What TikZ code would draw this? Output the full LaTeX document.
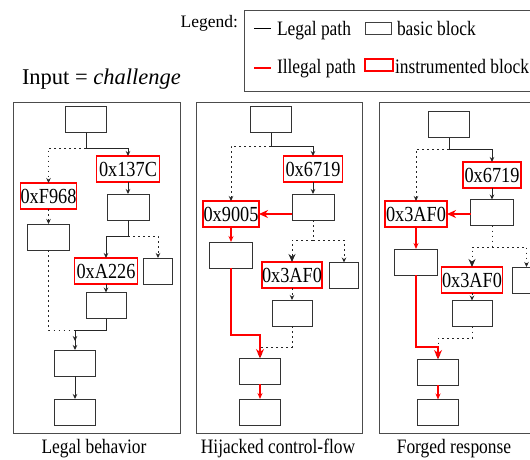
\documentclass[tikz,border=0pt]{standalone}
\usepackage{fontspec}
\setmainfont{Liberation Serif}
\usetikzlibrary{arrows.meta}
% horizontally narrowed text
\newcommand\narrowtext[1]{\scalebox{0.85}[1]{#1}}
\begin{document}
\begin{tikzpicture}[x=1pt,y=-1pt,
  every node/.style={inner sep=0pt, outer sep=0pt},
  blk/.style={draw, color=black!80, line width=1pt, minimum height=26pt, minimum width=41pt},
  inst/.style={draw, color=red, text=black, line width=1.35pt, minimum height=26pt,
    font=\fontsize{21.5}{21.5}\selectfont},
  lbl/.style={font=\fontsize{20.5}{22}\selectfont},
  panelbox/.style={draw, color=black!70, line width=1pt},
  legal/.style={draw, color=black!85, line width=1pt, -{Stealth[length=5pt,width=4.5pt]}},
  legaldot/.style={legal, dash pattern=on 1.6pt off 3.4pt},
  legaldotbig/.style={legaldot, -{Stealth[length=8pt,width=7pt]}},
  illegal/.style={draw, color=red, line width=1.35pt, -{Stealth[length=6pt,width=5pt]}},
  illegalbig/.style={illegal, -{Stealth[length=9pt,width=8pt]}},
]
\useasboundingbox (0,0) rectangle (530,459);
\clip (0,0) rectangle (530,459);

% ---- legend ----
\node[anchor=base east, font=\fontsize{17.5}{18}\selectfont] (legtitle) at (238,27) {Legend:};
\node[panelbox, anchor=north west, minimum width=296pt, minimum height=81pt] (legbox) at (244,10) {};
\coordinate (l1a) at (254,28);
\coordinate (l1b) at (271,28);
\draw[color=black, line width=1pt] (l1a) -- (l1b);
\node[lbl, anchor=base west] (l1t) at (277,35) {\narrowtext{Legal path}};
\node[draw, color=black!75, line width=1pt, minimum width=26pt, minimum height=12pt] (l1r) at (378,28) {};
\node[lbl, anchor=base west] (l1u) at (397,35) {\narrowtext{basic block}};
\coordinate (l2a) at (254,68);
\coordinate (l2b) at (271,68);
\draw[color=red, line width=1.35pt] (l2a) -- (l2b);
\node[lbl, anchor=base west] (l2t) at (277,73) {\narrowtext{Illegal path}};
\node[draw, color=red, line width=1.35pt, minimum width=28pt, minimum height=12pt] (l2r) at (379,65) {};
\node[lbl, anchor=base west] (l2u) at (395,73) {\narrowtext{instrumented block}};

\node[anchor=base west, font=\fontsize{22.5}{23}\selectfont] (input) at (22,84) {Input = \textit{challenge}};

% ---- panel frames and captions ----
\node[panelbox, anchor=north west, minimum width=167pt, minimum height=331pt] (pan1) at (13,102) {};
\node[panelbox, anchor=north west, minimum width=166pt, minimum height=331pt] (pan2) at (196,102) {};
\node[panelbox, anchor=north west, minimum width=167pt, minimum height=331pt] (pan3) at (379,102) {};
\node[lbl, anchor=base] (cap1) at (94,453) {\narrowtext{Legal behavior}};
\node[lbl, anchor=base] (cap2) at (278,453) {\narrowtext{Hijacked control-flow}};
\node[lbl, anchor=base] (cap3) at (454,453) {\narrowtext{Forged response}};

% ---- panel 1: legal behavior ----
\node[blk] (p1a) at (86,119.5) {};
\node[inst, minimum width=63pt] (p1x) at (128,169) {\narrowtext{0x137C}};
\node[inst, minimum width=55pt] (p1f) at (48.5,196) {\narrowtext{0xF968}};
\node[blk, minimum width=42pt] (p1b) at (48.5,237) {};
\node[blk, minimum width=42pt] (p1c) at (128,207) {};
\node[inst, minimum width=63pt] (p1h) at (106,271) {\narrowtext{0xA226}};
\node[blk, minimum width=29pt] (p1d) at (158,271) {};
\node[blk, minimum width=40pt] (p1e) at (106,305.5) {};
\node[blk] (p1g) at (75,363) {};
\node[blk] (p1k) at (75,412) {};
\coordinate (p1s) at (86,148);
\coordinate (p1t) at (128,236);
\coordinate (p1m) at (75,330);

\draw[legal] (p1a.south) -- (p1s) -| (p1x.north);
\draw[legaldot] (p1s) -| (p1f.north);
\draw[legaldot] (p1f.south) -- (p1b.north);
\draw[legal] (p1x.south) -- (p1c.north);
\draw[legal] (p1c.south) -- (p1t) -| (p1h.north);
\draw[legaldot] (p1t) -| (p1d.north);
\draw[legal] (p1h.south) -- (p1e.north);
\draw[legaldot, shorten >=9pt] (p1b.south) |- (p1m) -- (p1g.north);
\draw[legal] (p1e.south) |- (p1m) -- (p1g.north);
\draw[legal] (p1g.south) -- (p1k.north);

% ---- panel 2: hijacked control-flow ----
\node[blk] (p2a) at (271,119.5) {};
\node[inst, minimum width=59pt] (p2x) at (313,169) {\narrowtext{0x6719}};
\node[inst, minimum width=56pt] (p2n) at (231,214) {\narrowtext{0x9005}};
\node[blk, minimum width=42pt] (p2c) at (313,207) {};
\node[blk, minimum width=43pt] (p2b) at (231,255) {};
\node[inst, minimum width=58pt] (p2m) at (292,275) {\narrowtext{0x3AF0}};
\node[blk, minimum width=29pt] (p2d) at (344,275.5) {};
\node[blk, minimum width=40pt] (p2e) at (292,313) {};
\node[blk] (p2g) at (260,371) {};
\node[blk] (p2k) at (260,412) {};
\coordinate (p2s) at (271,146);
\coordinate (p2t) at (313,240);
\coordinate (p2u) at (260,347);
\coordinate (p2v) at (260,335);

\draw[legal] (p2a.south) -- (p2s) -| (p2x.north);
\draw[legaldot] (p2s) -| (p2n.north);
\draw[legal] (p2x.south) -- (p2c.north);
\draw[illegalbig] (p2c.west |- p2n.east) -- (p2n.east);
\draw[illegal] (p2n.south) -- (p2b.north);
\draw[legaldotbig] (p2c.south) -- (p2t) -| (p2m.north);
\draw[legaldot] (p2t) -| (p2d.north);
\draw[legaldot] (p2m.south) -- (p2e.north);
\draw[legaldot] (p2e.south) |- (p2u) -- (p2g.north);
\draw[illegalbig] (p2b.south) |- (p2v) -- (p2g.north);
\draw[illegal] (p2g.south) -- (p2k.north);

% ---- panel 3: forged response ----
\node[blk] (p3a) at (449,124.5) {};
\node[inst, minimum width=58pt] (p3x) at (492,175) {\narrowtext{0x6719}};
\node[inst, minimum width=62pt] (p3l) at (416,214) {\narrowtext{0x3AF0}};
\node[blk, minimum width=43pt] (p3c) at (492,212.5) {};
\node[blk, minimum width=43pt] (p3b) at (416,262) {};
\node[inst, minimum width=61pt] (p3r) at (472,280) {\narrowtext{0x3AF0}};
\node[blk, minimum width=29pt] (p3d) at (526.5,280) {};
\node[blk, minimum width=40pt] (p3e) at (472,313.5) {};
\node[blk] (p3g) at (438,372) {};
\node[blk] (p3k) at (438,412.5) {};
\coordinate (p3s) at (449,149);
\coordinate (p3t) at (492,247);
\coordinate (p3u) at (438,338);
\coordinate (p3v) at (438,347);

\draw[legal] (p3a.south) -- (p3s) -| (p3x.north);
\draw[legaldot] (p3s) -| (p3l.north);
\draw[legal] (p3x.south) -- (p3c.north);
\draw[illegalbig] (p3c.west |- p3l.east) -- (p3l.east);
\draw[illegal] (p3l.south) -- (p3b.north);
\draw[legaldotbig] (p3c.south) -- (p3t) -| (p3r.north);
\draw[legaldot] (p3t) -| (p3d.north);
\draw[legaldot] (p3r.south) -- (p3e.north);
\draw[legaldot] (p3e.south) |- (p3u) -- (p3g.north);
\draw[illegalbig] (p3b.south) |- (p3v) -- (p3g.north);
\draw[illegal] (p3g.south) -- (p3k.north);
\end{tikzpicture}
\end{document}
